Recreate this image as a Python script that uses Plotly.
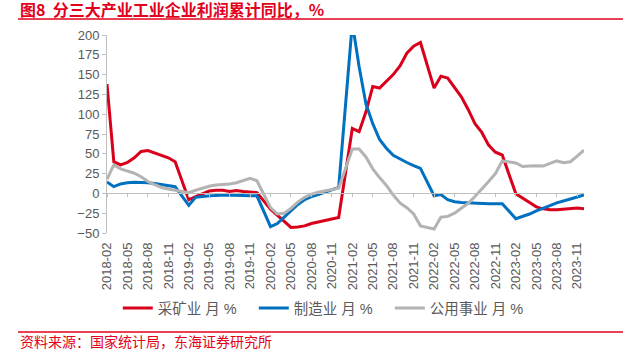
import plotly.graph_objects as go

# ---- data (cumulative YoY, %) ; January values are not published (None) ----
years = [2018, 2019, 2020, 2021, 2022, 2023]
months = []
for y in years:
    for m in range(1, 13):
        if y == 2018 and m == 1:
            continue
        months.append(f"{y}-{m:02d}")

mining = [
    138, 40, 36, 39, 45, 53, 54, 51, 48, 45, 40,
    None, -8, -4, -1, 3, 4, 4, 2.5, 3.5, 2.5, 1.5, 1,
    None, -20, -28, -35, -43, -42.5, -41, -38, -36, -34, -32, -30.5,
    None, 82, 78, 103, 135, 133, 142, 150, 161, 177, 186, 190.5,
    None, 133, 148, 145.5, 133, 122, 106, 88, 77, 61, 52, 48.5,
    None, -0.5, -6, -12.5, -17, -19.5, -20.5, -20.5, -20, -19.5, -18.5, -19.5,
]
manufacturing = [
    14.5, 8.5, 12, 13.5, 14, 14, 13.5, 12.5, 11, 10, 8.5,
    None, -15, -5, -4, -3, -2.5, -2, -2, -2, -2.5, -3, -3,
    None, -42, -38, -30, -22, -14, -8, -4, -1.5, 1.5, 4.5, 7.5,
    None, 215, 160, 113, 88, 68, 57, 48, 43, 39, 35, 31.5,
    None, -3, -1.5, -8, -10.5, -11.5, -12, -12.5, -13, -13, -13, -13,
    None, -32, -29, -26, -22, -19, -15.5, -12, -9, -7, -4.5, -2,
]
utilities = [
    18, 36, 31, 28.5, 25.5, 21, 15, 11, 7.5, 5.5, 4,
    None, 1, 4, 7, 9, 10.5, 11, 12, 13.5, 16, 19, 16,
    None, -18, -26, -25, -19, -11, -5, -1, 1.5, 3, 5, 6.5,
    None, 56, 56, 46, 31, 20, 10, -2, -12, -18, -26, -41,
    None, -45, -30, -29, -25, -19, -12.5, -4, 5, 15, 25, 41,
    None, 38.5, 34, 34.5, 35, 34.5, 38, 41, 38.7, 40, 47, 54.5,
]
series_names = ["采矿业 月 %", "制造业 月 %", "公用事业 月 %"]
tick_labels = months[::3]

title_text = "图8\u00a0\u00a0分三大产业工业企业利润累计同比，%"
source_text = "资料来源：国家统计局，东海证券研究所"

# ---- styles ----
RED = "#D9001B"
BLUE = "#0070C0"
GRAY = "#B3B3B3"
ACCENT = "#E2001A"
AXIS = "#BFBFBF"
TXT = "#595959"
FONT = "Liberation Sans, Arial, Noto Sans CJK SC"
CJK = "Noto Sans CJK SC"

fig = go.Figure()
for name, vals, col in zip(series_names, [mining, manufacturing, utilities], [RED, BLUE, GRAY]):
    fig.add_trace(go.Scatter(x=months, y=vals, name=name, mode="lines",
                             connectgaps=True, line=dict(color=col, width=3),
                             hoverinfo="skip"))
# helper trace so the zero-crossing category axis is rendered
fig.add_trace(go.Scatter(x=[months[0]], y=[None], xaxis="x2", showlegend=False,
                         hoverinfo="skip", mode="lines"))

fig.update_layout(
    width=631, height=351,
    margin=dict(l=107, r=47, t=35, b=118, autoexpand=False),
    paper_bgcolor="white", plot_bgcolor="white",
    font=dict(family=FONT, color=TXT, size=13),
    xaxis=dict(type="category", categoryorder="array", categoryarray=months,
               range=[0, len(months) - 1], tickvals=tick_labels, ticktext=tick_labels,
               tickangle=-90, showline=False, showgrid=False, zeroline=False,
               ticks="", tickfont=dict(size=13, color=TXT), ticklabelstandoff=6,
               automargin=False),
    xaxis2=dict(type="category", categoryorder="array", categoryarray=months,
                matches="x", overlaying="x", anchor="free", position=0.2,
                showline=True, linecolor=AXIS, linewidth=1, ticks="outside",
                ticklen=3, tickcolor=AXIS, tickvals=tick_labels,
                showticklabels=False, showgrid=False, zeroline=False,
                automargin=False),
    yaxis=dict(range=[-50, 200], dtick=25, tick0=0, showline=True, linecolor=AXIS,
               ticks="outside", ticklen=4, tickcolor=AXIS, showgrid=False,
               zeroline=False, tickfont=dict(size=13, color=TXT), automargin=False),
    legend=dict(orientation="h", xref="container", yref="container",
                x=0.51, xanchor="center", y=1 - 308 / 351, yanchor="middle",
                font=dict(size=14.5, color=TXT, family=FONT),
                itemwidth=30, entrywidth=91, entrywidthmode="pixels",
                bgcolor="rgba(0,0,0,0)"),
    showlegend=True,
)

# title, source and rules
fig.add_annotation(text=title_text, xref="paper", yref="paper",
                   x=(18 - 107) / 477, y=(233 - 9) / 198, xanchor="left",
                   yanchor="middle", showarrow=False,
                   font=dict(family=CJK, size=16, color=ACCENT, weight="bold"))
fig.add_annotation(text=source_text, xref="paper", yref="paper",
                   x=(18 - 107) / 477, y=(233 - 341) / 198, xanchor="left",
                   yanchor="middle", showarrow=False,
                   font=dict(family=CJK, size=14, color=ACCENT))
for ypx in (19, 332):
    fig.add_shape(type="line", xref="paper", yref="paper",
                  x0=(18 - 107) / 477, x1=(623 - 107) / 477,
                  y0=(233 - ypx) / 198, y1=(233 - ypx) / 198,
                  line=dict(color=ACCENT, width=1.5))

fig.write_html("out.html")
